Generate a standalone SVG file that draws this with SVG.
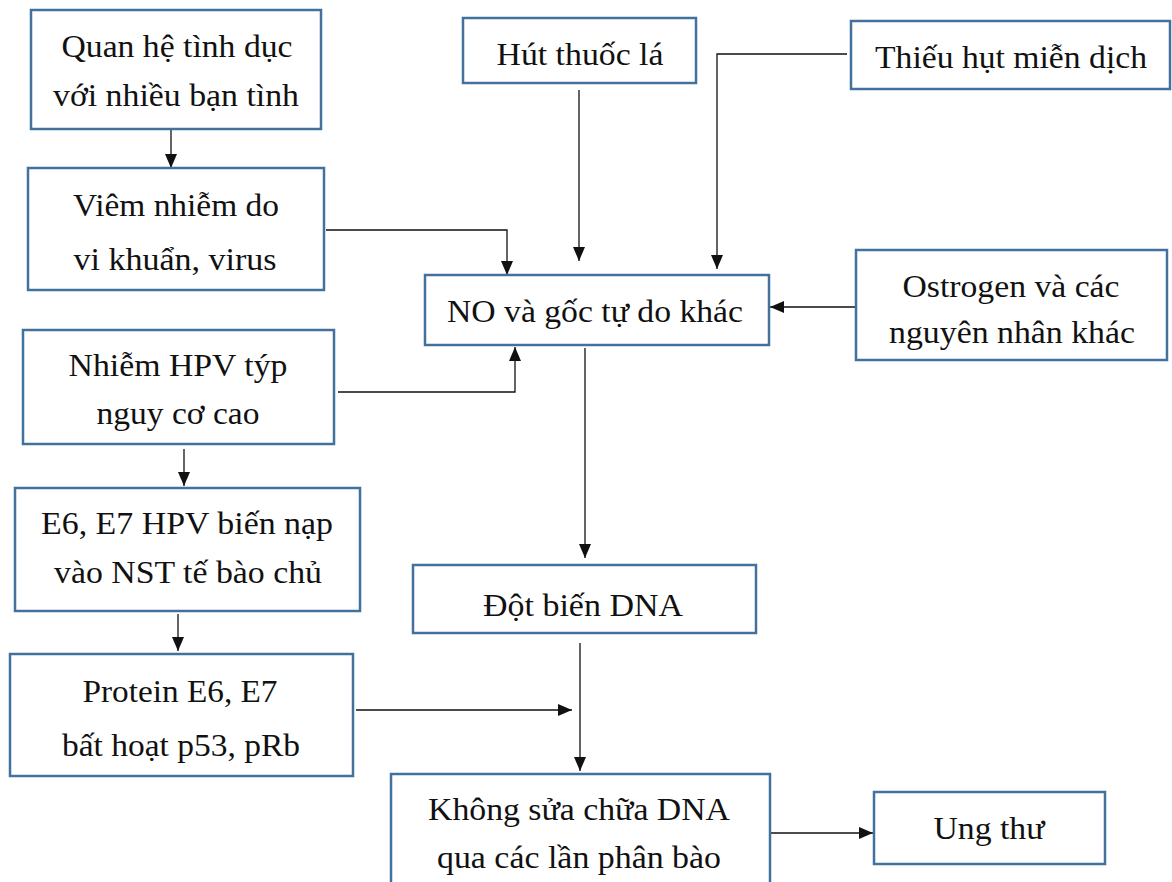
<svg xmlns="http://www.w3.org/2000/svg" width="1172" height="882" viewBox="0 0 1172 882">
  <style>
    .box { fill: #ffffff; stroke: #41719c; stroke-width: 2.5; }
    .wire { fill: none; stroke: #111; stroke-width: 1.3; }
  </style>
  <defs>
    <marker id="head" viewBox="0 0 14 12" refX="14" refY="6" markerWidth="14" markerHeight="12" markerUnits="userSpaceOnUse" orient="auto">
      <path d="M0,0 L14,6 L0,12 z" fill="#111"/>
    </marker>
  </defs>
  <rect width="1172" height="882" fill="#ffffff"/>

  <g id="connectors">
    <path class="wire" d="M171,130 V168" marker-end="url(#head)"/>
    <path class="wire" d="M326,230 H507 V275" marker-end="url(#head)"/>
    <path class="wire" d="M579,90 V261" marker-end="url(#head)"/>
    <path class="wire" d="M847,54 H717 V269" marker-end="url(#head)"/>
    <path class="wire" d="M855,307 H770" marker-end="url(#head)"/>
    <path class="wire" d="M338,392 H515 V347" marker-end="url(#head)"/>
    <path class="wire" d="M184,449 V486" marker-end="url(#head)"/>
    <path class="wire" d="M585,348 V558" marker-end="url(#head)"/>
    <path class="wire" d="M178,614 V651" marker-end="url(#head)"/>
    <path class="wire" d="M356,710 H572" marker-end="url(#head)"/>
    <path class="wire" d="M580,643 V771" marker-end="url(#head)"/>
    <path class="wire" d="M769,833 H873" marker-end="url(#head)"/>
  </g>

  <!-- node labels: Times-metric serif, centred in each box -->
  <g font-family="Liberation Serif" font-size="32" fill="#111" text-anchor="middle">
    <g id="n-quanhe">
      <rect class="box" x="31" y="10" width="290" height="119"/>
      <text x="177" y="57" textLength="231" lengthAdjust="spacingAndGlyphs">Quan hệ tình dục</text>
      <text x="176" y="106" textLength="246" lengthAdjust="spacingAndGlyphs">với nhiều bạn tình</text>
    </g>
    <g id="n-viem">
      <rect class="box" x="28" y="168" width="296" height="122"/>
      <text x="176" y="216" textLength="206" lengthAdjust="spacingAndGlyphs">Viêm nhiễm do</text>
      <text x="175" y="270" textLength="203" lengthAdjust="spacingAndGlyphs">vi khuẩn, virus</text>
    </g>
    <g id="n-hut">
      <rect class="box" x="463" y="18" width="233" height="65"/>
      <text x="580" y="65" textLength="167" lengthAdjust="spacingAndGlyphs">Hút thuốc lá</text>
    </g>
    <g id="n-thieu">
      <rect class="box" x="851" y="21" width="319" height="68"/>
      <text x="1011" y="68" textLength="272" lengthAdjust="spacingAndGlyphs">Thiếu hụt miễn dịch</text>
    </g>
    <g id="n-no">
      <rect class="box" x="425" y="275" width="344" height="70"/>
      <text x="595" y="322" textLength="296" lengthAdjust="spacingAndGlyphs">NO và gốc tự do khác</text>
    </g>
    <g id="n-ostrogen">
      <rect class="box" x="856" y="250" width="311" height="110"/>
      <text x="1011" y="297" textLength="217" lengthAdjust="spacingAndGlyphs">Ostrogen và các</text>
      <text x="1012" y="343" textLength="246" lengthAdjust="spacingAndGlyphs">nguyên nhân khác</text>
    </g>
    <g id="n-hpv">
      <rect class="box" x="23" y="330" width="311" height="114"/>
      <text x="178" y="376" textLength="219" lengthAdjust="spacingAndGlyphs">Nhiễm HPV týp</text>
      <text x="178" y="424" textLength="163" lengthAdjust="spacingAndGlyphs">nguy cơ cao</text>
    </g>
    <g id="n-e6e7">
      <rect class="box" x="15" y="488" width="345" height="123"/>
      <text x="187" y="534" textLength="292" lengthAdjust="spacingAndGlyphs">E6, E7 HPV biến nạp</text>
      <text x="188" y="583" textLength="268" lengthAdjust="spacingAndGlyphs">vào NST tế bào chủ</text>
    </g>
    <g id="n-dotbien">
      <rect class="box" x="413" y="565" width="343" height="68"/>
      <text x="583" y="616" textLength="200" lengthAdjust="spacingAndGlyphs">Đột biến DNA</text>
    </g>
    <g id="n-protein">
      <rect class="box" x="10" y="654" width="343" height="122"/>
      <text x="180" y="702" textLength="195" lengthAdjust="spacingAndGlyphs">Protein E6, E7</text>
      <text x="181" y="756" textLength="238" lengthAdjust="spacingAndGlyphs">bất hoạt p53, pRb</text>
    </g>
    <g id="n-khong">
      <rect class="box" x="391" y="774" width="379" height="120"/>
      <text x="579" y="820" textLength="302" lengthAdjust="spacingAndGlyphs">Không sửa chữa DNA</text>
      <text x="579" y="868" textLength="284" lengthAdjust="spacingAndGlyphs">qua các lần phân bào</text>
    </g>
    <g id="n-ungthu">
      <rect class="box" x="874" y="792" width="231" height="72"/>
      <text x="989" y="839" textLength="111" lengthAdjust="spacingAndGlyphs">Ung thư</text>
    </g>
  </g>
</svg>
